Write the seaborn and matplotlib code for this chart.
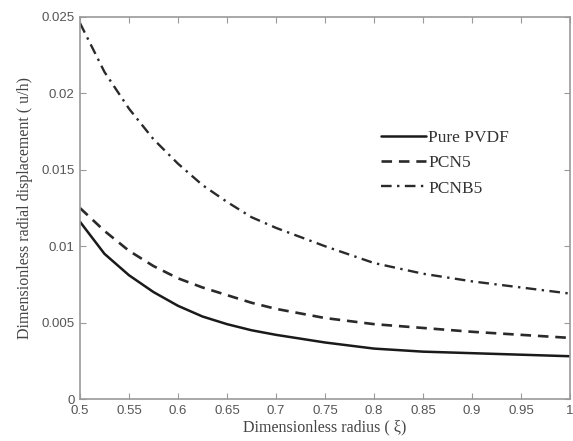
import numpy as np
import pandas as pd
import matplotlib
matplotlib.use("Agg")
import matplotlib.pyplot as plt
import seaborn as sns

# values
xi = [0.5, 0.525, 0.55, 0.575, 0.6, 0.625, 0.65, 0.675, 0.7, 0.75, 0.8, 0.85, 0.9, 0.95, 1.0]
pure_pvdf = [0.0116, 0.0095, 0.0081, 0.0070, 0.0061, 0.0054, 0.0049, 0.0045, 0.0042,
             0.0037, 0.0033, 0.0031, 0.0030, 0.0029, 0.0028]
pcn5 = [0.0125, 0.0110, 0.0097, 0.0087, 0.0079, 0.0073, 0.0068, 0.0063, 0.0059,
        0.0053, 0.0049, 0.00465, 0.0044, 0.0042, 0.0040]
pcnb5 = [0.0246, 0.0214, 0.0190, 0.0170, 0.0154, 0.0140, 0.0129, 0.0119, 0.0112,
         0.0100, 0.0089, 0.0082, 0.0077, 0.0073, 0.0069]

df = pd.DataFrame({"xi": xi, "Pure PVDF": pure_pvdf, "PCN5": pcn5, "PCNB5": pcnb5})

sns.set_style("ticks")
plt.rcParams["font.family"] = ["Liberation Sans", "DejaVu Sans"]

fig = plt.figure(figsize=(5.73, 4.41), dpi=100)
ax = fig.add_axes([0.1396, 0.0952, 0.855, 0.8663])

sns.lineplot(x="xi", y="Pure PVDF", data=df, ax=ax, color="#1a1a1a", lw=1.8, label="Pure PVDF")
sns.lineplot(x="xi", y="PCN5", data=df, ax=ax, color="#2a2a2a", lw=1.9, label="PCN5").lines[-1].set_dashes([4, 2.6])
sns.lineplot(x="xi", y="PCNB5", data=df, ax=ax, color="#2a2a2a", lw=1.7, label="PCNB5").lines[-1].set_dashes([4.5, 2.3, 1, 2.3])

ax.set_xlim(0.5, 1.0)
ax.set_ylim(0, 0.025)
ax.set_xticks(np.arange(0.5, 1.001, 0.05))
ax.set_xticklabels(["0.5", "0.55", "0.6", "0.65", "0.7", "0.75", "0.8", "0.85", "0.9", "0.95", "1"])
ax.set_yticks([0, 0.005, 0.01, 0.015, 0.02, 0.025])
ax.set_yticklabels(["0", "0.005", "0.01", "0.015", "0.02", "0.025"])

for s in ax.spines.values():
    s.set_visible(True)
    s.set_color("#9a9a9a")
    s.set_linewidth(1.2)
ax.tick_params(direction="in", length=4, color="#9a9a9a", labelcolor="#555555",
               labelsize=9.5, top=True, right=True, pad=4)

ax.set_xlabel("Dimensionless radius ( ξ)", family=["Liberation Serif", "DejaVu Serif"],
              fontsize=11.5, color="#444444", labelpad=2)
ax.set_ylabel("Dimensionless radial displacement ( u/h)", family=["Liberation Serif", "DejaVu Serif"],
              fontsize=11.5, color="#444444", labelpad=6)

leg = ax.legend(loc="upper left", bbox_to_anchor=(0.582, 0.745), frameon=False,
                prop={"family": "Liberation Serif", "size": 12.5}, handlelength=2.6,
                handletextpad=0.15, labelspacing=0.52)
for t in leg.get_texts():
    t.set_color("#333333")

plt.savefig("out.png", dpi=100)
